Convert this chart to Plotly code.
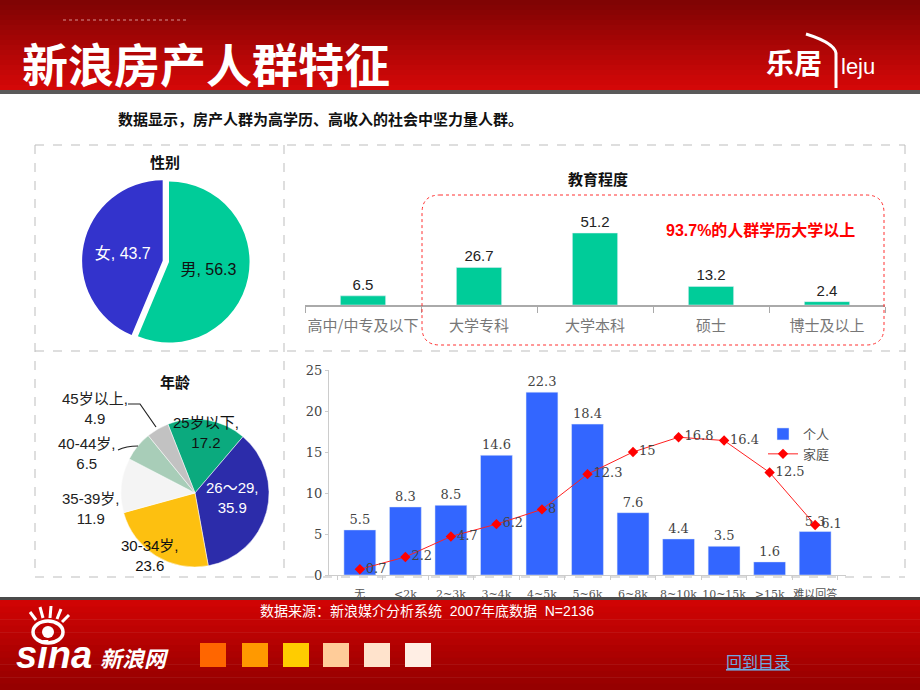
import plotly.graph_objects as go

W, H = 920, 690


def X(px):
    return px / W


def Y(py):
    return 1 - py / H


# ---------------- data ----------------
gender_labels = ["男", "女"]
gender_values = [56.3, 43.7]

edu_labels = ["高中/中专及以下", "大学专科", "大学本科", "硕士", "博士及以上"]
edu_values = [6.5, 26.7, 51.2, 13.2, 2.4]

age_labels = ["25岁以下", "26～29", "30-34岁", "35-39岁", "40-44岁", "45岁以上"]
age_values = [17.2, 35.9, 23.6, 11.9, 6.5, 4.9]

income_labels = ["无", "<2k", "2~3k", "3~4k", "4~5k", "5~6k", "6~8k",
                 "8~10k", "10~15k", ">15k", "难以回答"]
personal_values = [5.5, 8.3, 8.5, 14.6, 22.3, 18.4, 7.6, 4.4, 3.5, 1.6, 5.3]
family_values = [0.7, 2.2, 4.7, 6.2, 8, 12.3, 15, 16.8, 16.4, 12.5, 6.1]
series_names = ["个人", "家庭"]

# ---------------- styles ----------------
CJK = "Noto Sans CJK SC"
SANS = "Liberation Sans, Noto Sans CJK SC"
SERIF = "DejaVu Serif, Noto Sans CJK SC"

fig = go.Figure()

# gender pie
fig.add_trace(go.Pie(
    labels=gender_labels, values=gender_values, sort=False,
    direction="clockwise", rotation=0, pull=[0, 0.08],
    marker=dict(colors=["#00CC99", "#3333CC"], line=dict(width=0)),
    texttemplate="%{label}, %{value}", textposition="inside",
    insidetextorientation="horizontal",
    insidetextfont=dict(family=SANS, size=16, color=["#111111", "#FFFFFF"]),
    domain=dict(x=[X(82), X(256)], y=[Y(349), Y(175)]),
    showlegend=False, hoverinfo="skip",
))

# age pie
fig.add_trace(go.Pie(
    labels=age_labels, values=age_values, sort=False,
    direction="clockwise", rotation=-21.5,
    marker=dict(colors=["#0BAA7E", "#2C2CAA", "#FDC010", "#F4F4F4", "#A8CDB8", "#C2C2C2"],
                line=dict(width=0.5, color="#FFFFFF")),
    textinfo="none",
    domain=dict(x=[X(121), X(269)], y=[Y(567), Y(419)]),
    showlegend=False, hoverinfo="skip",
))

# education bars
fig.add_trace(go.Bar(
    x=edu_labels, y=edu_values, marker=dict(color="#00CC99"), width=0.39,
    text=[str(v) for v in edu_values], textposition="outside",
    textfont=dict(family=SANS, size=15, color="#222222"),
    cliponaxis=False, xaxis="x", yaxis="y", showlegend=False, hoverinfo="skip",
))

# income bars + line
fig.add_trace(go.Bar(
    x=income_labels, y=personal_values, name=series_names[0],
    marker=dict(color="#3366FF"),
    text=[str(v) for v in personal_values], textposition="outside",
    textfont=dict(family=SERIF, size=13, color="#444444"),
    cliponaxis=False, xaxis="x2", yaxis="y2", hoverinfo="skip",
))
fig.add_trace(go.Scatter(
    x=income_labels, y=family_values, name=series_names[1],
    mode="lines+markers+text",
    line=dict(color="#FF2020", width=1),
    marker=dict(symbol="diamond", size=8, color="#FF0000"),
    text=[str(v) for v in family_values], textposition="middle right",
    textfont=dict(family=SERIF, size=13, color="#444444"),
    cliponaxis=False, xaxis="x2", yaxis="y2", hoverinfo="skip",
))

shapes = []
annotations = []

# header gradient
n = 18
for i in range(n):
    t = i / (n - 1)
    r = int(128 + (212 - 128) * t)
    g = int(4 + (8 - 4) * t)
    col = f"rgb({r},{g},{g})"
    y0 = 90 * i / n
    y1 = 90 * (i + 1) / n + 0.5
    shapes.append(dict(type="rect", xref="paper", yref="paper",
                       x0=0, x1=1, y0=Y(y1), y1=Y(y0),
                       fillcolor=col, line=dict(width=0), layer="below"))
shapes.append(dict(type="rect", xref="paper", yref="paper", x0=0, x1=1,
                   y0=Y(94), y1=Y(90), fillcolor="#5A5A5A", line=dict(width=0), layer="below"))
shapes.append(dict(type="line", xref="paper", yref="paper", x0=X(63), x1=X(189),
                   y0=Y(20), y1=Y(20), line=dict(color="#D89090", width=1, dash="dot")))

# footer gradient
shapes.append(dict(type="rect", xref="paper", yref="paper", x0=0, x1=1,
                   y0=Y(600), y1=Y(597), fillcolor="#4A4A4A", line=dict(width=0), layer="above"))
n = 14
for i in range(n):
    t = i / (n - 1)
    r = int(208 - (208 - 150) * t)
    col = f"rgb({r},{int(4 - 4 * t)},{int(4 - 4 * t)})"
    y0 = 600 + 90 * i / n
    y1 = 600 + 90 * (i + 1) / n + 0.5
    shapes.append(dict(type="rect", xref="paper", yref="paper", x0=0, x1=1,
                       y0=Y(min(y1, 690)), y1=Y(y0), fillcolor=col,
                       line=dict(width=0), layer="above"))

# panel borders (dashed)
bc = dict(color="#BDBDBD", width=1, dash="dash")
for (x0, y0, x1, y1) in [(35, 145, 905, 145), (35, 351, 905, 351), (35, 577, 905, 577),
                         (35, 145, 35, 577), (284, 145, 284, 577), (905, 145, 905, 577)]:
    shapes.append(dict(type="line", xref="paper", yref="paper",
                       x0=X(x0), x1=X(x1), y0=Y(y0), y1=Y(y1), line=bc, layer="below"))

# red rounded dotted box
x1, x2, y1, y2, rr = 422, 884, 195, 345, 18


def P(px, py):
    return f"{X(px):.5f},{Y(py):.5f}"


path = (f"M {P(x1 + rr, y1)} L {P(x2 - rr, y1)} Q {P(x2, y1)} {P(x2, y1 + rr)} "
        f"L {P(x2, y2 - rr)} Q {P(x2, y2)} {P(x2 - rr, y2)} "
        f"L {P(x1 + rr, y2)} Q {P(x1, y2)} {P(x1, y2 - rr)} "
        f"L {P(x1, y1 + rr)} Q {P(x1, y1)} {P(x1 + rr, y1)} Z")
shapes.append(dict(type="path", xref="paper", yref="paper", path=path,
                   line=dict(color="#FF3030", width=1, dash="dot")))

# age pie leader lines
shapes.append(dict(type="path", xref="paper", yref="paper",
                   path=f"M {P(128, 404)} L {P(140, 404)} L {P(156, 427)}",
                   line=dict(color="#222222", width=1.2)))
shapes.append(dict(type="path", xref="paper", yref="paper",
                   path=f"M {P(118, 450)} Q {P(126, 446)} {P(138, 446)}",
                   line=dict(color="#222222", width=1.2)))

# footer colour squares
sq_colors = ["#FF6600", "#FF9900", "#FFCC00", "#FFCC99", "#FFE3CC", "#FFEEE4"]
sq_x = [200, 242, 283, 323, 364, 405]
for cx, c in zip(sq_x, sq_colors):
    shapes.append(dict(type="rect", xref="paper", yref="paper",
                       x0=X(cx), x1=X(cx + 26), y0=Y(667), y1=Y(643),
                       fillcolor=c, line=dict(width=0), layer="above"))

# sina eye icon
shapes.append(dict(type="circle", xref="paper", yref="paper",
                   x0=X(33), x1=X(63), y0=Y(643), y1=Y(621),
                   line=dict(color="white", width=3.5), layer="above"))
shapes.append(dict(type="circle", xref="paper", yref="paper",
                   x0=X(42), x1=X(54), y0=Y(638), y1=Y(626),
                   fillcolor="white", line=dict(width=0), layer="above"))
for (ax0, ay0, ax1, ay1) in [(36, 620, 30, 612), (43, 618, 40, 607), (50, 618, 51, 606),
                             (57, 619, 61, 609), (62, 622, 69, 615)]:
    shapes.append(dict(type="line", xref="paper", yref="paper",
                       x0=X(ax0), x1=X(ax1), y0=Y(ay0), y1=Y(ay1),
                       line=dict(color="white", width=3), layer="above"))

# logo hook curve (header right)
shapes.append(dict(type="path", xref="paper", yref="paper",
                   path=f"M {P(806, 34)} Q {P(838, 44)} {P(836, 56)} L {P(836, 88)}",
                   line=dict(color="white", width=3)))


def ann(text, px, py, size, color="#111111", family=CJK, xanchor="center", **kw):
    annotations.append(dict(text=text, x=X(px), y=Y(py), xref="paper", yref="paper",
                            showarrow=False, xanchor=xanchor, yanchor="middle",
                            font=dict(size=size, color=color, family=family), **kw))


# header texts
ann("<b>新浪房产人群特征</b>", 20, 62, 46, "white", xanchor="left")
ann("<b>乐居</b>", 794, 62, 28, "white")
ann("leju", 858, 66, 22, "white", family="Liberation Sans")
# subtitle
ann("<b>数据显示，房产人群为高学历、高收入的社会中坚力量人群。</b>", 116, 119, 15, "#111111",
    xanchor="left")
# panel titles
ann("<b>性别</b>", 165, 162, 15)
ann("<b>教育程度</b>", 598, 178, 15)
ann("<b>年龄</b>", 175, 381, 15)
ann("<b>93.7%的人群学历大学以上</b>", 760, 230, 16, "#FF0000", family=SANS)

# age labels
age_pos = [(206, 432), (232, 497), (150, 555), (91, 508), (87, 453), (95, 408)]
age_col = ["#111111", "#FFFFFF", "#111111", "#222222", "#222222", "#222222"]
for lab, val, (px, py), c in zip(age_labels, age_values, age_pos, age_col):
    ann(f"{lab},<br>{val}", px, py, 15, c, family=SANS)

# footer texts
ann("数据来源：新浪媒介分析系统  2007年底数据  N=2136", 258, 611, 14, "#FFFFFF",
    family=SANS, xanchor="left")
ann("<b><i>sina</i></b>", 14, 655, 38, "white", family="Liberation Sans", xanchor="left")
ann("<b><i>新浪网</i></b>", 98, 657, 22, "white", xanchor="left")
ann("<u>回到目录</u>", 758, 661, 16, "#6FA8E0")

fig.update_layout(
    width=W, height=H, autosize=False,
    margin=dict(l=0, r=0, t=0, b=0, pad=0, autoexpand=False),
    paper_bgcolor="white", plot_bgcolor="rgba(0,0,0,0)",
    shapes=shapes, annotations=annotations,
    bargap=0.3,
    xaxis=dict(domain=[X(305), X(885)], type="category", showline=True, automargin=False,
               linecolor="#AAAAAA", linewidth=1.5, ticks="outside", tickson="boundaries",
               ticklen=6, tickcolor="#AAAAAA", showgrid=False, ticklabelstandoff=6,
               tickangle=0,
               tickfont=dict(family=CJK, size=15, color="#777777")),
    yaxis=dict(domain=[Y(305), Y(200)], range=[0, 74.7], visible=False, automargin=False),
    xaxis2=dict(domain=[X(329), X(846)], type="category", showline=True, automargin=False,
                linecolor="#CCCCCC", ticks="outside", tickson="boundaries",
                ticklen=4, tickcolor="#CCCCCC", showgrid=False, anchor="y2",
                ticklabelstandoff=9, tickangle=0,
                tickfont=dict(family=SERIF, size=11, color="#555555")),
    yaxis2=dict(domain=[Y(575), Y(370)], range=[0, 25], anchor="x2", automargin=False,
                tickvals=[0, 5, 10, 15, 20, 25], showline=True, linecolor="#CCCCCC",
                ticks="outside", ticklen=3, tickcolor="#CCCCCC", showgrid=False,
                zeroline=False,
                tickfont=dict(family=SERIF, size=13, color="#444444")),
    legend=dict(x=X(763), y=Y(419), xanchor="left", yanchor="top",
                bgcolor="rgba(0,0,0,0)", font=dict(family=CJK, size=13, color="#555555"),
                tracegroupgap=0, itemwidth=30),
)

fig.write_html(
    "out.html",
    config={"displayModeBar": False},
    post_script=(
        "document.documentElement.style.margin='0';"
        "document.body.style.margin='0';"
        "document.documentElement.style.overflow='hidden';"
        "document.body.style.overflow='hidden';"
        "var gd=document.getElementById('{plot_id}');"
        "gd.style.position='fixed';gd.style.top='0px';gd.style.left='0px';"
    ),
)
